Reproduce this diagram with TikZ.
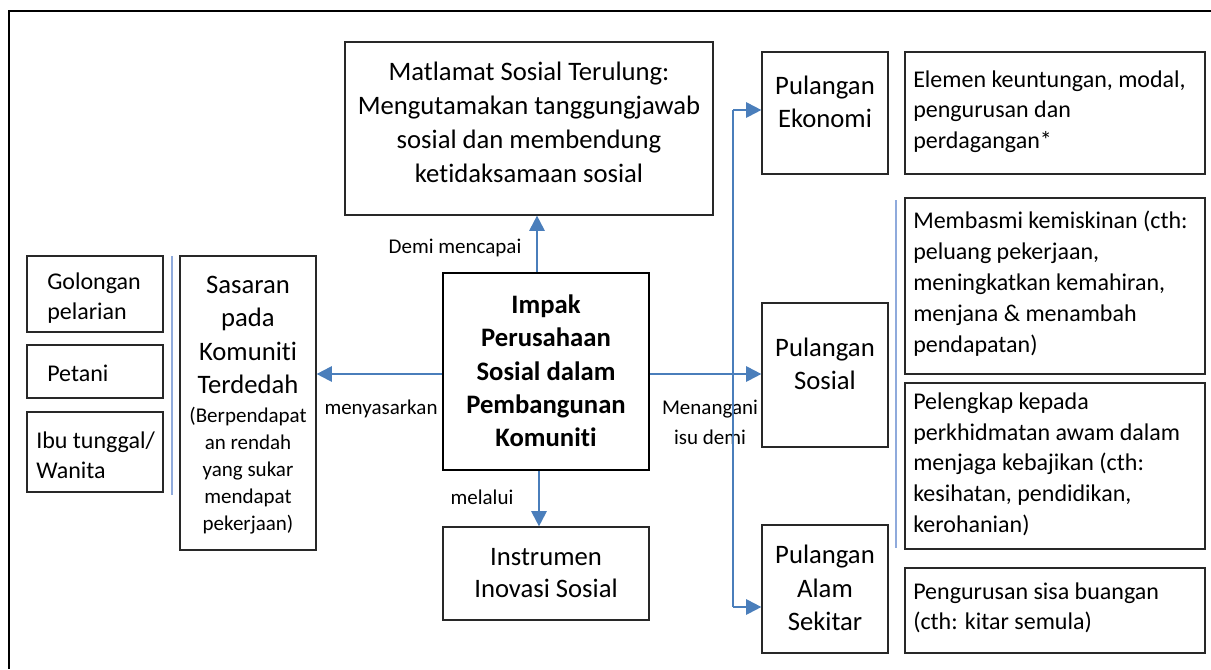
\documentclass[tikz,border=0pt]{standalone}
\usepackage{fontspec}
\setmainfont{Carlito}[Ligatures={NoCommon}]
\usetikzlibrary{arrows.meta,fit,calc}
\definecolor{arrblue}{RGB}{74,126,187}
\definecolor{sepblue}{RGB}{143,170,220}
\definecolor{boxline}{RGB}{40,40,40}
\tikzset{
  box/.style={draw=boxline, line width=0.9pt, inner sep=0pt},
  mainbox/.style={draw=black, line width=2.2pt, inner sep=0pt},
  txt/.style={inner sep=0pt, text=black},
  arr/.style={draw=arrblue, line width=1.6pt, -{Triangle[length=11.5pt,width=11.5pt]}},
  vline/.style={draw=arrblue, line width=1.1pt},
  sep/.style={draw=sepblue, line width=1.3pt},
  fbig/.style={font=\fontsize{20}{25}\selectfont},
  fmid/.style={font=\fontsize{18}{23}\selectfont},
  flab/.style={font=\fontsize{15.75}{22.5}\selectfont},
}
\begin{document}
\begin{tikzpicture}[x=0.75pt,y=-0.75pt]
\useasboundingbox (0,0) rectangle (1211,669);
% outer frame (top and left edges visible)
\draw[line width=0.9pt] (1211,11) -- (9,11) -- (9,669);

% boxes
\node[box, fit={(345,42) (713,215)}] (mat) {};
\node[box, fit={(27,256) (163,332)}] (gol) {};
\node[box, fit={(27,345) (163,398)}] (pet) {};
\node[box, fit={(27,412) (163,492)}] (ibu) {};
\node[box, fit={(180,256) (316,550)}] (sas) {};
\node[mainbox, fit={(443,273) (649,470)}] (imp) {};
\node[box, fit={(443,527) (649,620)}] (ins) {};
\node[box, fit={(762,52) (888,174)}] (pe) {};
\node[box, fit={(762,303) (888,447)}] (ps) {};
\node[box, fit={(762,525) (888,653)}] (pa) {};
\node[box, fit={(905,52) (1205,174)}] (ele) {};
\node[box, fit={(905,198) (1205,374)}] (mem) {};
\node[box, fit={(905,383) (1205,549)}] (pel) {};
\node[box, fit={(905,568) (1205,653)}] (peng) {};

% texts
\node[txt, fbig, align=center, font=\fontsize{20}{25.5}\selectfont] (tmat) at (529,122)
  {Matlamat Sosial Terulung:\\Mengutamakan tanggungjawab\\sosial dan membendung\\ketidaksamaan sosial};
\node[txt, fmid, align=left, anchor=west, font=\fontsize{18}{22.5}\selectfont] (tgol) at (47,298) {Golongan\\pelarian};
\node[txt, fmid, align=left, anchor=west] (tpet) at (47,373) {Petani};
\node[txt, fmid, align=left, anchor=west, font=\fontsize{18}{22.5}\selectfont] (tibu) at (36,455) {Ibu tunggal/\\Wanita};
\node[txt, fbig, align=center] (tsas) at (248,335) {Sasaran\\pada\\Komuniti\\Terdedah};
\node[txt, align=center, font=\fontsize{15.75}{20.25}\selectfont] (tsas2) at (248,471)
  {(Berpendapat\\an rendah\\yang sukar\\mendapat\\pekerjaan)};
\node[txt, align=center, font=\fontsize{20}{25}\selectfont\bfseries] (timp) at (546,371)
  {Impak\\Perusahaan\\Sosial dalam\\Pembangunan\\Komuniti};
\node[txt, align=center, font=\fontsize{20}{24.5}\selectfont] (tins) at (546,573) {Instrumen\\Inovasi Sosial};
\node[txt, fbig, align=center] (tpe) at (825,101.5) {Pulangan\\Ekonomi};
\node[txt, fbig, align=center] (tps) at (825,363.5) {Pulangan\\Sosial};
\node[txt, fbig, align=center] (tpa) at (825,588) {Pulangan\\Alam\\Sekitar};
\node[txt, fmid, align=left, anchor=west] (tele) at (913,111.5)
  {Elemen keuntungan, modal,\\pengurusan dan\\perdagangan*};
\node[txt, fmid, align=left, anchor=west, font=\fontsize{18}{23.25}\selectfont] (tmem) at (913,283.5)
  {Membasmi kemiskinan (cth:\\peluang pekerjaan,\\meningkatkan kemahiran,\\menjana \& menambah\\pendapatan)};
\node[txt, fmid, align=left, anchor=west] (tpel) at (913,464)
  {Pelengkap kepada\\perkhidmatan awam dalam\\menjaga kebajikan (cth:\\kesihatan, pendidikan,\\kerohanian)};
\node[txt, fmid, align=left, anchor=west, font=\fontsize{18}{22.5}\selectfont] (tpeng) at (913,608)
  {Pengurusan sisa buangan\\(cth: kitar semula)};

% labels
\node[txt, flab] (ldemi) at (455,248) {Demi mencapai};
\node[txt, flab] (lmeny) at (381,409) {menyasarkan};
\node[txt, flab] (lmel) at (482,497) {melalui};
\node[txt, flab, align=center] (lmen) at (710,422) {Menangani\\isu demi};

% separators
\coordinate (s1t) at (172,256); \coordinate (s1b) at (172,495);
\coordinate (s2t) at (896,200); \coordinate (s2b) at (896,548);
\draw[sep] (s1t) -- (s1b);
\draw[sep] (s2t) -- (s2b);

% connectors
\coordinate (ux) at (537,0);
\coordinate (dx) at (539,0);
\coordinate (ly) at (0,374);
\draw[arr] (imp.north -| ux) -- (mat.south -| ux);
\draw[arr] (imp.south -| dx) -- (ins.north -| dx);
\draw[arr] (imp.west |- ly) -- (sas.east |- ly);
\draw[arr] (imp.east |- ly) -- (ps.west |- ly);
\coordinate (vt) at (733,110);
\coordinate (vb) at (733,607);
\draw[vline] (vt) -- (vb);
\draw[arr] (vt) -- (vt -| pe.west);
\draw[arr] (vb) -- (vb -| pa.west);
\end{tikzpicture}
\end{document}
